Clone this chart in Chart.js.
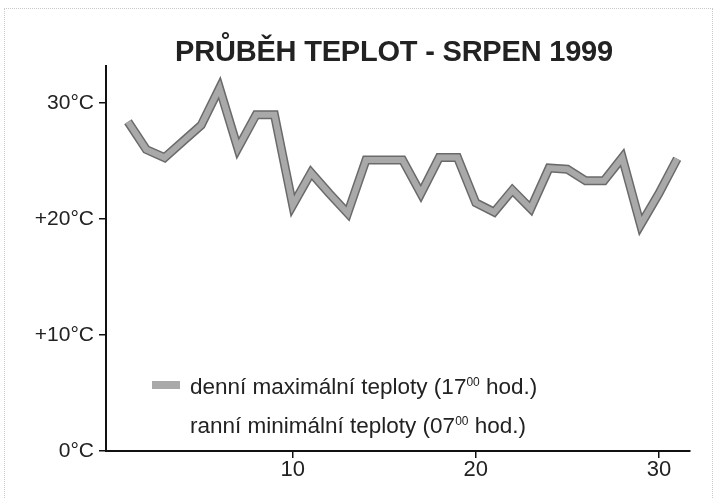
<!DOCTYPE html>
<html lang="cs">
<head>
<meta charset="utf-8">
<title>Průběh teplot - srpen 1999</title>
<script src="https://cdn.jsdelivr.net/npm/chart.js@4.4.1/dist/chart.umd.min.js"></script>
<style>
    html, body { margin: 0; padding: 0; background: #fff; }
    #wrap { position: relative; width: 719px; height: 499px; overflow: hidden; font-family: "Liberation Sans", Arial, sans-serif; color: #222; }
    #frame { position: absolute; left: 4px; top: 8px; width: 707px; height: 520px; border: 1px dotted #c9c9c9; }
    #chart { position: absolute; left: 0; top: 0; }
    #title { position: absolute; left: 0; top: 37px; width: 788px; text-align: center; font-size: 29px; font-weight: bold; line-height: 1; letter-spacing: -0.2px; }
    #legend { position: absolute; left: 152px; top: 365px; font-size: 22.5px; line-height: 26px; }
    #legend .row { height: 39px; display: flex; align-items: center; }
    #legend .swatch { display: inline-block; width: 28px; height: 8px; margin-right: 10px; }
    #legend sup { font-size: 12px; vertical-align: 8px; }
</style>
</head>
<body>
<div id="wrap">
    <div id="frame"></div>
    <canvas id="chart" width="719" height="499"></canvas>
    <div id="title">PRŮBĚH TEPLOT - SRPEN 1999</div>
    <div id="legend"></div>
</div>
<script>
// Dny v srpnu 1999
const days = [1, 2, 3, 4, 5, 6, 7, 8, 9, 10, 11, 12, 13, 14, 15, 16,
              17, 18, 19, 20, 21, 22, 23, 24, 25, 26, 27, 28, 29, 30, 31];

// Denní maximální teploty (17:00)
const maxTemps = [28.4, 26.0, 25.3, 26.7, 28.1, 31.3, 26.1, 29.0, 29.0, 21.2, 24.0,
                  22.2, 20.5, 25.1, 25.1, 25.1, 22.2, 25.3, 25.3, 21.4, 20.6, 22.5,
                  20.9, 24.4, 24.3, 23.3, 23.3, 25.3, 19.5, 22.2, 25.2];

// Ranní minima (07:00) - v předloze se nevytiskla, zůstává jen popisek
const minTemps = [];

const seriesLabels = ['denní maximální teploty (17<sup>00</sup> hod.)',
                      'ranní minimální teploty (07<sup>00</sup> hod.)'];
const seriesColors = ['#a9a9a9', 'rgba(0,0,0,0)'];

const yTickValues = [0, 10, 20, 30];
const yTickLabels = ['0°C', '+10°C', '+20°C', '30°C'];
const xTickValues = [10, 20, 30];

function buildLegend() {
    const box = document.getElementById('legend');
    seriesLabels.forEach((label, i) => {
        const row = document.createElement('div');
        row.className = 'row';
        row.innerHTML = `<span class="swatch" style="background:${seriesColors[i]}"></span><span>${label}</span>`;
        box.appendChild(row);
    });
}

function renderChart() {
    const ctx = document.getElementById('chart').getContext('2d');
    const maxPoints = days.map((d, i) => ({ x: d, y: maxTemps[i] }));
    const minPoints = minTemps.map((t, i) => ({ x: days[i], y: t }));

    const tickFont = { family: '"Liberation Sans", Arial, sans-serif', size: 21 };

    new Chart(ctx, {
        type: 'line',
        data: {
            datasets: [
                {
                    label: 'denní maximální teploty',
                    data: maxPoints,
                    borderColor: seriesColors[0],
                    borderWidth: 6,
                    borderJoinStyle: 'miter',
                    pointRadius: 0,
                    tension: 0,
                    order: 1
                },
                {
                    // tmavý okraj čáry (kreslí se pod světlou výplní)
                    data: maxPoints,
                    borderColor: '#6a6a6a',
                    borderWidth: 9,
                    borderJoinStyle: 'miter',
                    pointRadius: 0,
                    tension: 0,
                    order: 2
                },
                {
                    label: 'ranní minimální teploty',
                    data: minPoints,
                    borderColor: seriesColors[1],
                    pointRadius: 0,
                    order: 3
                }
            ]
        },
        options: {
            responsive: false,
            animation: false,
            layout: { padding: { left: 0, right: 29, top: 66, bottom: 0 } },
            plugins: {
                legend: { display: false },
                title: { display: false },
                tooltip: { enabled: false }
            },
            scales: {
                x: {
                    type: 'linear',
                    min: -0.2,
                    max: 31.7,
                    afterBuildTicks: (scale) => { scale.ticks = xTickValues.map(v => ({ value: v })); },
                    afterFit: (scale) => { scale.height = 48; },
                    border: { color: '#111', width: 2 },
                    grid: { drawOnChartArea: false, tickLength: 7, color: '#111', lineWidth: 1.5 },
                    ticks: { color: '#222', font: { family: tickFont.family, size: 22 }, padding: -1, maxRotation: 0 }
                },
                y: {
                    min: 0,
                    max: 33.2,
                    afterBuildTicks: (scale) => { scale.ticks = yTickValues.map(v => ({ value: v })); },
                    afterFit: (scale) => { scale.width = 106; },
                    border: { color: '#111', width: 2 },
                    grid: { drawOnChartArea: false, tickLength: 7, color: '#111', lineWidth: 1.5 },
                    ticks: {
                        color: '#222',
                        font: tickFont,
                        padding: 5,
                        callback: (value) => {
                            const idx = yTickValues.indexOf(value);
                            return idx >= 0 ? yTickLabels[idx] : '';
                        }
                    }
                }
            }
        }
    });
}

buildLegend();
renderChart();
</script>
</body>
</html>
